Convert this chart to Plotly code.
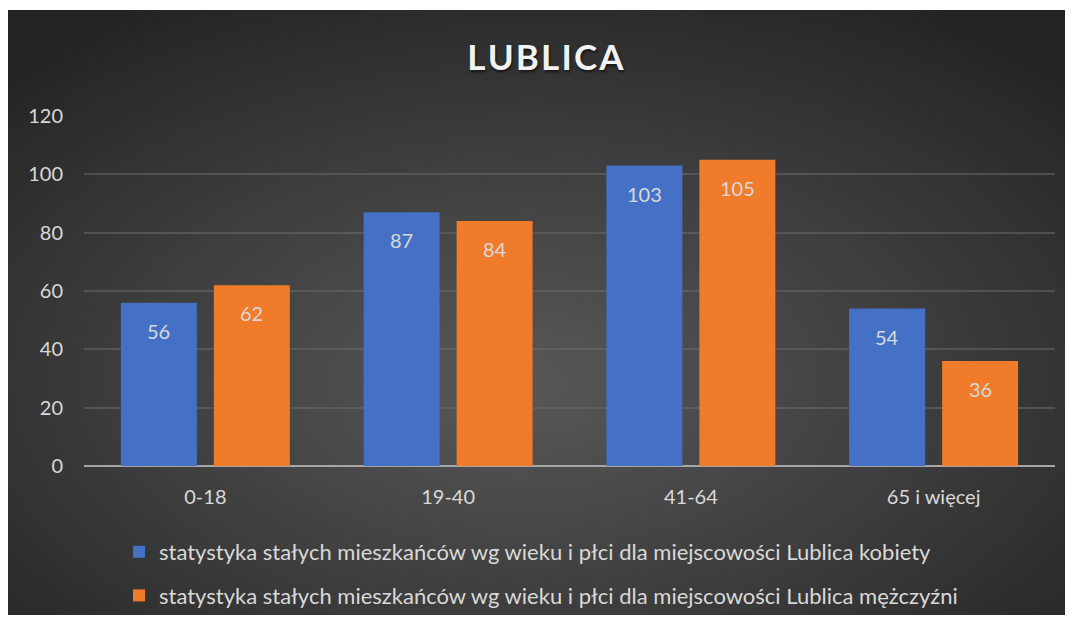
import base64
import plotly.graph_objects as go

categories = ["0-18", "19-40", "41-64", "65 i więcej"]
kobiety = [56, 87, 103, 54]
mezczyzni = [62, 84, 105, 36]
series_names = [
    "statystyka stałych mieszkańców wg wieku i płci dla miejscowości Lublica kobiety",
    "statystyka stałych mieszkańców wg wieku i płci dla miejscowości Lublica mężczyźni",
]
y_ticks = [0, 20, 40, 60, 80, 100, 120]
title_text = "LUBLICA"

# page body has an 8px margin; figure sized to fit the window exactly
W, H = 1057, 607
L, R, T, B = 76, 10, 108, 149
PW = W - L - R
PH = H - T - B

FONT = "Lato, Carlito, Calibri, sans-serif"
TXT = "#d9d9d9"

svg = """<svg xmlns='http://www.w3.org/2000/svg' width='1057' height='605' viewBox='0 0 1057 605' preserveAspectRatio='none'>
<defs><radialGradient id='g' cx='50%' cy='60%' r='72%' fx='48%' fy='62%'>
<stop offset='0' stop-color='#585858'/><stop offset='0.55' stop-color='#3c3c3c'/><stop offset='1' stop-color='#232323'/>
</radialGradient></defs><rect width='1057' height='605' fill='url(#g)'/></svg>"""
bg_src = "data:image/svg+xml;base64," + base64.b64encode(svg.encode()).decode()

def px_x(p):
    return (p - L) / PW

def px_y(p):
    return (H - B - p) / PH

fig = go.Figure()
fig.add_trace(go.Bar(
    x=categories, y=kobiety, name=series_names[0], legendgroup="a",
    marker=dict(color="#4471c6", line=dict(width=0)),
))
fig.add_trace(go.Bar(
    x=categories, y=mezczyzni, name=series_names[1], legendgroup="b",
    marker=dict(color="#f07b2a", line=dict(width=0)),
))

annotations = []
for vals, shift in ((kobiety, -46.5), (mezczyzni, 46.5)):
    for c, v in zip(categories, vals):
        annotations.append(dict(
            x=c, y=v, xref="x", yref="y", text=str(v), showarrow=False,
            xshift=shift, yshift=-28, font=dict(family=FONT, size=20, color=TXT),
        ))

spaced_title = "\u200a".join(title_text)

fig.update_layout(
    width=W, height=H,
    margin=dict(l=L, r=R, t=T, b=B, pad=0, autoexpand=False),
    paper_bgcolor="white",
    plot_bgcolor="rgba(0,0,0,0)",
    barmode="group", bargap=0.234, bargroupgap=0.183,
    font=dict(family=FONT, size=19, color=TXT),
    title=dict(
        text=spaced_title, x=537.5 / W, xanchor="center", xref="container",
        y=1 - 50 / H, yanchor="middle", yref="container",
        font=dict(family=FONT, size=35, color="#f2f2f2", weight="bold",
                  shadow="1px 2px 3px rgba(0,0,0,0.6)"),
    ),
    xaxis=dict(
        showgrid=False, showline=False, zeroline=False, ticks="",
        tickfont=dict(family=FONT, size=20, color=TXT), ticklabelstandoff=17,
    ),
    yaxis=dict(
        range=[0, 120], tickvals=y_ticks, showgrid=True,
        gridcolor="rgba(105,105,105,0.55)", gridwidth=1.5,
        zeroline=True, zerolinecolor="#a6a6a6", zerolinewidth=2,
        showline=False, ticks="", tickfont=dict(family=FONT, size=20, color=TXT),
        ticklabelstandoff=20,
    ),
    legend=dict(
        orientation="v", traceorder="grouped", tracegroupgap=12,
        x=111 / W, xanchor="left", xref="container",
        y=1 - 523 / H, yanchor="top", yref="container",
        bgcolor="rgba(0,0,0,0)", font=dict(family=FONT, size=22, color=TXT),
        itemsizing="constant",
    ),
    annotations=annotations,
    images=[dict(
        source=bg_src, xref="paper", yref="paper",
        x=px_x(0), y=px_y(2), sizex=W / PW, sizey=(H - 2) / PH,
        xanchor="left", yanchor="top", sizing="stretch", layer="below",
    )],
)

fig.write_html("out.html")
